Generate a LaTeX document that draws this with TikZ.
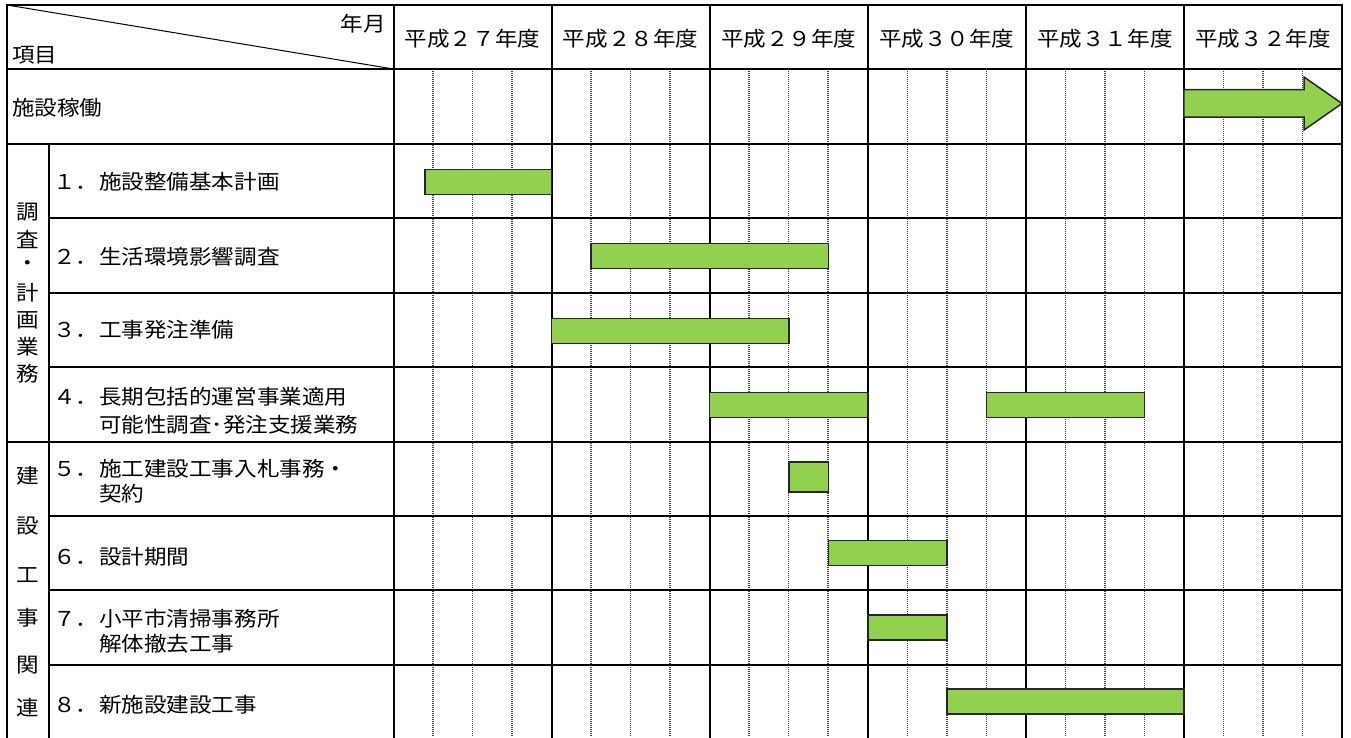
\documentclass[tikz,border=0pt]{standalone}
\usepackage{fontspec}
\setmainfont{Noto Sans CJK JP}[FakeStretch=1.1]
\definecolor{barg}{HTML}{92D050}
\begin{document}
\begin{tikzpicture}[x=1pt,y=-1pt,
  grid/.style={line width=2pt,black,line cap=rect},
  thin/.style={line width=1pt,black},
  qline/.style={line width=1.5pt,black!75,dash pattern=on 1pt off 1pt},
  bar/.style={draw=black!85,line width=1.5pt,fill=barg,inner sep=0pt,outer sep=0pt,minimum height=25pt},
  txt/.style={inner sep=0pt,font=\fontsize{20.5}{24}\selectfont},
  lbl/.style={txt,anchor=west},
]
\useasboundingbox (0,0) rectangle (1351,737);
% quarter (dotted) lines
\foreach \k in {0,...,5}{
  \foreach \q in {1,2,3}{
    \draw[qline] ({393.5+158.08*\k+39.52*\q},69) -- ({393.5+158.08*\k+39.52*\q},737);
  }
}
% diagonal in header
\draw[thin] (7,5) -- (393.5,69);
% horizontal lines
\draw[grid] (7,5) -- (1342,5);
\draw[grid] (7,69) -- (1342,69);
\draw[grid] (7,144) -- (1342,144);
\draw[grid] (49,218.4) -- (1342,218.4);
\draw[grid] (49,292.8) -- (1342,292.8);
\draw[grid] (49,367.2) -- (1342,367.2);
\draw[grid] (7,441.6) -- (1342,441.6);
\draw[grid] (49,516) -- (1342,516);
\draw[grid] (49,590.4) -- (1342,590.4);
\draw[grid] (49,664.8) -- (1342,664.8);
% vertical lines
\draw[grid] (7,5) -- (7,740);
\draw[grid] (49,144) -- (49,740);
\foreach \k in {0,...,6}{
  \draw[grid] ({393.5+158.08*\k},5) -- ({393.5+158.08*\k},740);
}
% header texts
\node[txt,anchor=east] (ym) at (386,24) {年月};
\node[lbl] (item) at (12,55) {項目};
\node[txt] (y27) at (472.5,39) {平成２７年度};
\node[txt] (y28) at (630.6,39) {平成２８年度};
\node[txt] (y29) at (788.7,39) {平成２９年度};
\node[txt] (y30) at (946.8,39) {平成３０年度};
\node[txt] (y31) at (1104.9,39) {平成３１年度};
\node[txt] (y32) at (1263,39) {平成３２年度};
\node[lbl] (op) at (12,108) {施設稼働};
% vertical category texts
\node[txt] (c1a) at (28,212) {調};
\node[txt] (c1b) at (28,239) {査};
\node[txt] (c1c) at (28,266) {・};
\node[txt] (c1d) at (28,293) {計};
\node[txt] (c1e) at (28,320) {画};
\node[txt] (c1f) at (28,347) {業};
\node[txt] (c1g) at (28,374) {務};
\node[txt] (c2a) at (28,476) {建};
\node[txt] (c2b) at (28,526) {設};
\node[txt] (c2c) at (28,575) {工};
\node[txt] (c2d) at (28,618) {事};
\node[txt] (c2e) at (28,665) {関};
\node[txt] (c2f) at (28,708) {連};
% row labels
\node[lbl] (n1) at (53,182) {１．};
\node[lbl] (t1) at (99,182) {施設整備基本計画};
\node[lbl] (n2) at (53,257) {２．};
\node[lbl] (t2) at (99,257) {生活環境影響調査};
\node[lbl] (n3) at (53,330) {３．};
\node[lbl] (t3) at (99,330) {工事発注準備};
\node[lbl] (n4) at (53,397) {４．};
\node[lbl] (t4a) at (99,397) {長期包括的運営事業適用};
\node[lbl] (t4b) at (99,425) {可能性調査･発注支援業務};
\node[lbl] (n5) at (53,469) {５．};
\node[lbl] (t5a) at (99,469) {施工建設工事入札事務・};
\node[lbl] (t5b) at (99,494) {契約};
\node[lbl] (n6) at (53,557) {６．};
\node[lbl] (t6) at (99,557) {設計期間};
\node[lbl] (n7) at (53,619) {７．};
\node[lbl] (t7a) at (99,619) {小平市清掃事務所};
\node[lbl] (t7b) at (99,644) {解体撤去工事};
\node[lbl] (n8) at (53,705) {８．};
\node[lbl] (t8) at (99,705) {新施設建設工事};
% bars
\node[bar,anchor=west,minimum width=126.6pt] (b1) at (425,182) {};
\node[bar,anchor=west,minimum width=237.2pt] (b2) at (591.1,256) {};
\node[bar,anchor=west,minimum width=237.2pt] (b3) at (551.6,331) {};
\node[bar,anchor=west,minimum width=158.05pt] (b4a) at (709.7,405) {};
\node[bar,anchor=west,minimum width=158.1pt] (b4b) at (986.3,405) {};
\node[bar,anchor=west,minimum width=39.5pt,minimum height=30pt] (b5) at (788.8,477) {};
\node[bar,anchor=west,minimum width=118.5pt] (b6) at (828.3,553) {};
\node[bar,anchor=west,minimum width=79.05pt] (b7) at (867.75,627.5) {};
\node[bar,anchor=west,minimum width=237.1pt] (b8) at (946.8,701.5) {};
% operation arrow
\draw[bar] (1183.9,89.5) -- (1304,89.5) -- (1304,77) -- (1342,103.5) -- (1304,130) -- (1304,117) -- (1183.9,117) -- cycle;
\end{tikzpicture}
\end{document}
